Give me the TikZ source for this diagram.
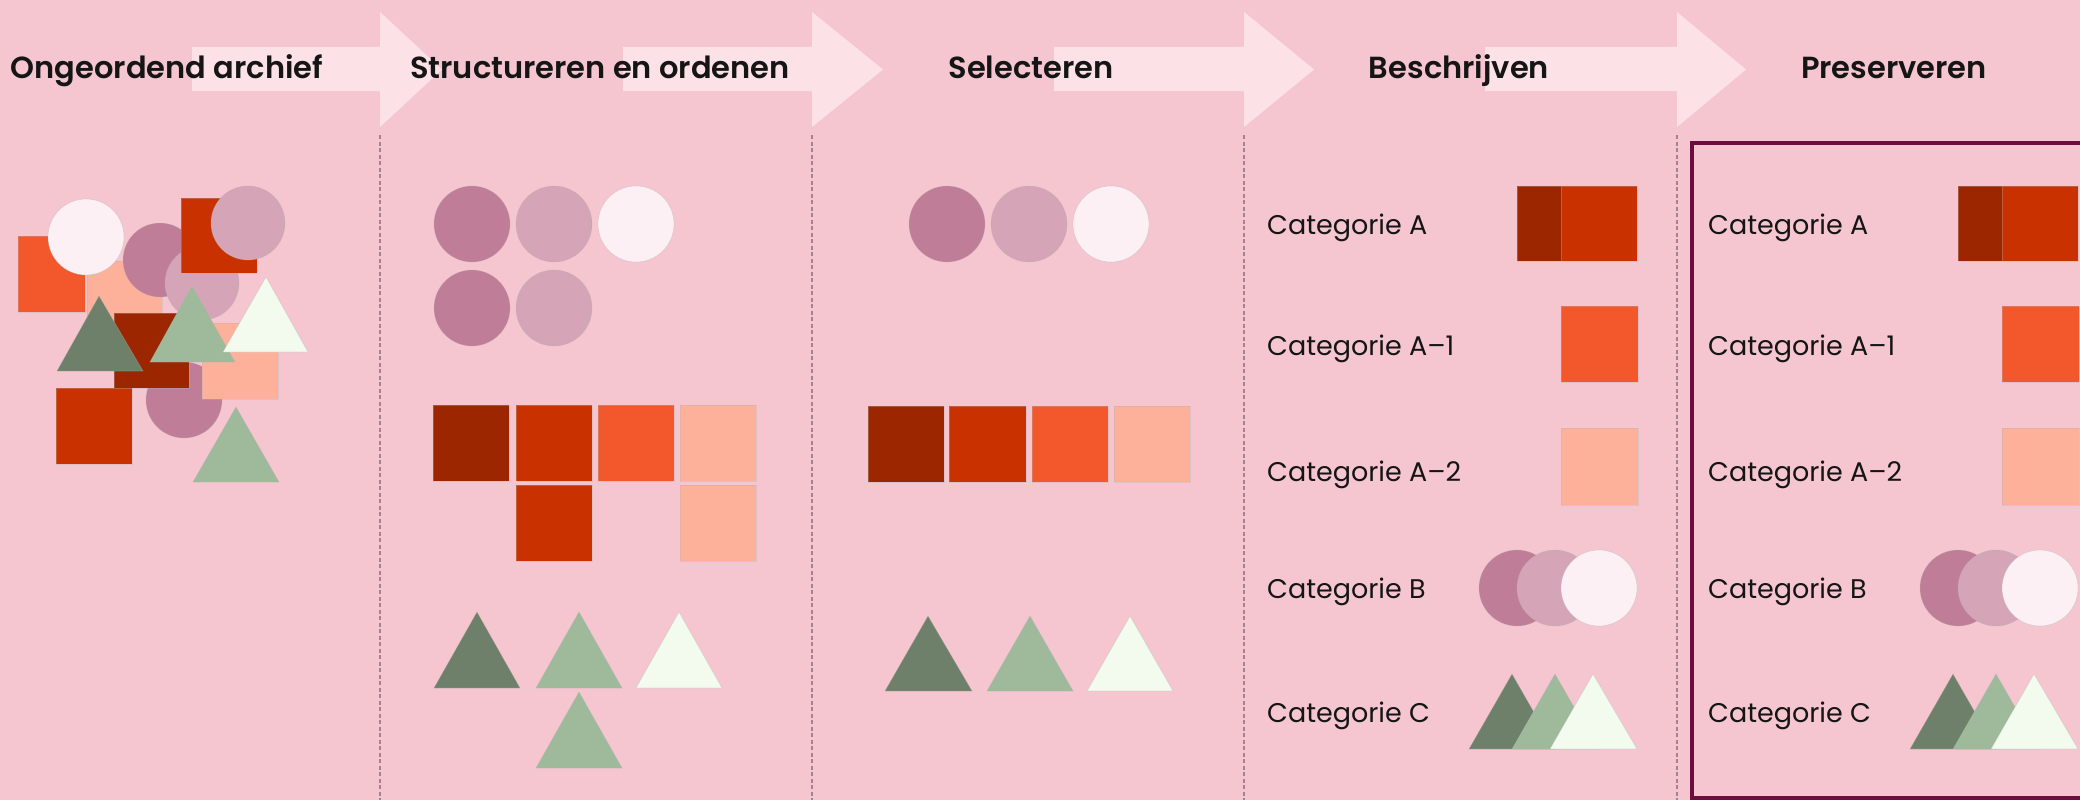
\documentclass[tikz,border=0pt]{standalone}
\usepackage{fontspec}
\setmainfont{Poppins}[BoldFont={Poppins SemiBold}]
\definecolor{bg}{HTML}{F6C6D0}
\definecolor{arrowc}{HTML}{FCE1E7}
\definecolor{dred}{HTML}{9C2600}
\definecolor{rred}{HTML}{C93100}
\definecolor{orng}{HTML}{F2582B}
\definecolor{peach}{HTML}{FDB19B}
\definecolor{mauve}{HTML}{C07D97}
\definecolor{lmauve}{HTML}{D5A5B7}
\definecolor{wcirc}{HTML}{FDF0F5}
\definecolor{dgreen}{HTML}{6E7F6A}
\definecolor{lgreen}{HTML}{9EBA9B}
\definecolor{wgreen}{HTML}{F2FBEE}
\definecolor{boxc}{HTML}{6B0E3E}
\definecolor{dashc}{HTML}{A8808F}
\definecolor{txt}{HTML}{151515}
\newcommand\mysq[3]{\filldraw[shp,fill=#1] (#2) rectangle (#3);}
\newcommand\mycirc[3]{\filldraw[shp,fill=#1] (#2) circle[radius=#3pt];}
\newcommand\mytri[4]{\filldraw[shp,fill=#1] (#2) -- (#3) -- (#4) -- cycle;}
\newcommand\legendcol[2]{%
\begin{scope}[xshift=#2pt]
\node[cat] (#1a) at (1267,234) {Categorie A};
\node[cat] (#1a1) at (1267,355) {Categorie A–1};
\node[cat] (#1a2) at (1267,481) {Categorie A–2};
\node[cat] (#1b) at (1267,598) {Categorie B};
\node[cat] (#1c) at (1267,722) {Categorie C};
\mysq{dred}{1517,186}{1561,261}
\mysq{rred}{1561,186}{1637,261}
\mysq{orng}{1561,306}{1638,382}
\mysq{peach}{1561,428}{1638,505}
\mycirc{mauve}{1517,588}{38}
\mycirc{lmauve}{1555,588}{38}
\mycirc{wcirc}{1599,588}{38}
\mytri{dgreen}{1512,674}{1469,749}{1555,749}
\mytri{lgreen}{1555,674}{1512,749}{1598,749}
\mytri{wgreen}{1593,674}{1550,749}{1637,749}
\end{scope}}
\begin{document}
\begin{tikzpicture}[x=1pt,y=-1pt,
  shp/.style={draw=black!30, draw opacity=0.35, line width=0.7pt},
  arr/.style={fill=arrowc},
  title/.style={anchor=base, inner sep=0pt, text=txt, font=\fontsize{30.5}{36}\selectfont\bfseries},
  cat/.style={anchor=base west, inner sep=0pt, text=txt, font=\fontsize{27}{32}\selectfont},
  sep/.style={dashc, line width=2pt, dash pattern=on 4pt off 2.5pt}]
\useasboundingbox (0,0) rectangle (2080,800);
\clip (0,0) rectangle (2080,800);
\fill[bg] (0,0) rectangle (2080,800);
% arrows
\foreach \a/\b/\t in {192/380/442, 623/812/883, 1054/1244/1314, 1485/1677/1746}
  \fill[arr] (\a,47) -- (\b,47) -- (\b,12) -- (\t,69.5) -- (\b,127) -- (\b,91) -- (\a,91) -- cycle;
% separators
\foreach \x in {380,812,1244,1677}
  \draw[sep] (\x,135) -- (\x,800);
% titles
\node[title] (t1) at (167,78) {Ongeordend archief};
\node[title] (t2) at (600,78) {Structureren en ordenen};
\node[title] (t3) at (1031,78) {Selecteren};
\node[title] (t4) at (1459,78) {Beschrijven};
\node[title] (t5) at (1894,78) {Preserveren};
% column 1: unordered
\mysq{orng}{18,236}{85,312}
\mysq{peach}{87,261}{162,337}
\mycirc{wcirc}{86,237}{38}
\mycirc{mauve}{160,260}{37}
\mycirc{lmauve}{202,283}{37}
\mysq{rred}{181,198}{257,273}
\mycirc{lmauve}{248,223}{37}
\mycirc{mauve}{184,400}{38}
\mysq{dred}{114,313}{189,388}
\mysq{peach}{202,323}{278,399}
\mytri{dgreen}{99,296}{57,371}{143,371}
\mytri{lgreen}{192,286}{150,362}{235,362}
\mytri{wgreen}{266,277}{223,352}{308,352}
\mysq{rred}{56,388}{132,464}
\mytri{lgreen}{236,407}{193,482}{279,482}
% column 2: structured
\mycirc{mauve}{472,224}{38}
\mycirc{lmauve}{554,224}{38}
\mycirc{wcirc}{636,224}{38}
\mycirc{mauve}{472,308}{38}
\mycirc{lmauve}{554,308}{38}
\mysq{dred}{433,405}{509,481}
\mysq{rred}{516,405}{592,481}
\mysq{orng}{598,405}{674,481}
\mysq{peach}{680,405}{756,481}
\mysq{rred}{516,485}{592,561}
\mysq{peach}{680,485}{756,561}
\mytri{dgreen}{477,612}{434,688}{520,688}
\mytri{lgreen}{579,612}{536,688}{622,688}
\mytri{wgreen}{679,612}{636,688}{722,688}
\mytri{lgreen}{579,692}{536,768}{622,768}
% column 3: selected
\mycirc{mauve}{947,224}{38}
\mycirc{lmauve}{1029,224}{38}
\mycirc{wcirc}{1111,224}{38}
\mysq{dred}{868,406}{944,482}
\mysq{rred}{949,406}{1026,482}
\mysq{orng}{1032,406}{1108,482}
\mysq{peach}{1114,406}{1190,482}
\mytri{dgreen}{928,616}{885,691}{972,691}
\mytri{lgreen}{1030,616}{987,691}{1073,691}
\mytri{wgreen}{1130,616}{1087,691}{1173,691}
% columns 4 and 5
\legendcol{d}{0}
\legendcol{p}{441}
\draw[boxc, line width=3.5pt] (1692,143) rectangle (2100,798);
\end{tikzpicture}
\end{document}
